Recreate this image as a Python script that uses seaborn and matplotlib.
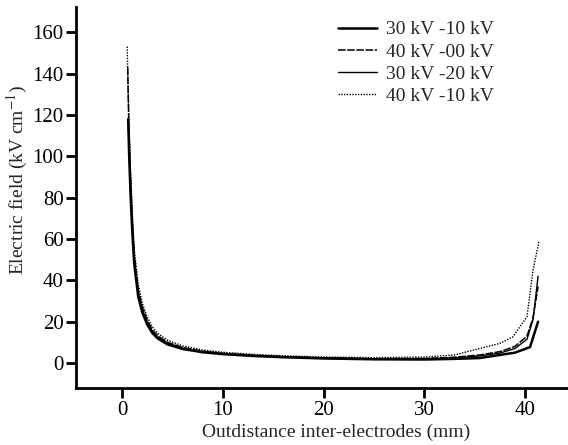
import matplotlib
matplotlib.use("Agg")
import matplotlib.pyplot as plt
import seaborn as sns
import pandas as pd

# ---- data ----
x_30_10 = [0.6, 0.7, 0.85, 1.0, 1.2, 1.6, 2.0, 2.5, 3.0, 3.5, 4.5, 6, 8, 10, 13, 16, 20, 25, 30, 33, 35.5, 37.5, 39.0, 40.5, 41.3]
y_30_10 = [118, 100, 80, 64, 48, 32, 24.5, 18.5, 14.5, 12, 9, 6.8, 5.2, 4.3, 3.4, 2.8, 2.2, 1.8, 1.7, 2.0, 2.4, 3.9, 5.0, 7.7, 20]

x_40_00 = [0.55, 0.65, 0.8, 1.0, 1.2, 1.6, 2.0, 2.5, 3.0, 3.5, 4.5, 6, 8, 10, 13, 16, 20, 25, 30, 33, 35.5, 37.5, 39.0, 40.2, 40.8, 41.3]
y_40_00 = [143, 118, 94, 70, 52, 35, 27, 20.5, 16, 13.3, 10, 7.5, 5.7, 4.7, 3.8, 3.1, 2.5, 2.1, 2.2, 2.8, 3.9, 5.5, 8.0, 13, 22, 37]

x_30_20 = [0.6, 0.7, 0.85, 1.0, 1.2, 1.6, 2.0, 2.5, 3.0, 3.5, 4.5, 6, 8, 10, 13, 16, 20, 25, 30, 33, 35.5, 37.5, 39.0, 40.2, 40.8, 41.3]
y_30_20 = [118, 102, 82, 66, 50, 34, 26, 19.5, 15.3, 12.7, 9.6, 7.2, 5.5, 4.5, 3.6, 3.0, 2.4, 2.0, 2.0, 2.5, 3.4, 4.8, 7.0, 11.5, 21, 42]

x_40_10 = [0.5, 0.65, 0.8, 1.0, 1.2, 1.6, 2.0, 2.5, 3.0, 3.5, 4.5, 6, 8, 10, 13, 16, 20, 25, 30, 33, 35.5, 37.5, 38.8, 40.2, 40.8, 41.4]
y_40_10 = [153, 122, 97, 74, 55, 38, 29, 22, 17.5, 14.5, 11, 8.3, 6.3, 5.2, 4.2, 3.5, 2.9, 2.6, 2.9, 3.9, 7.0, 9.5, 12.7, 22.4, 45, 59]

labels = ["30 kV -10 kV", "40 kV -00 kV", "30 kV -20 kV", "40 kV -10 kV"]
xticks = [0, 10, 20, 30, 40]
yticks = [0, 20, 40, 60, 80, 100, 120, 140, 160]

sns.set_theme(style="ticks")
plt.rcParams["font.family"] = ["Liberation Serif", "DejaVu Serif"]
plt.rcParams["mathtext.fontset"] = "stix"

fig = plt.figure(figsize=(5.68, 4.45), dpi=100)
ax = fig.add_axes([0.134, 0.128, 0.866, 0.856])

series = [
    (x_30_10, y_30_10, labels[0], dict(lw=1.8, linestyle="-")),
    (x_40_00, y_40_00, labels[1], dict(lw=1.1, linestyle=(0, (5, 1)))),
    (x_30_20, y_30_20, labels[2], dict(lw=1.0, linestyle="-")),
    (x_40_10, y_40_10, labels[3], dict(lw=1.0, linestyle=(0, (1, 1)))),
]
for xs, ys, lab, st in series:
    df = pd.DataFrame({"x": xs, "y": ys})
    sns.lineplot(data=df, x="x", y="y", ax=ax, color="black", label=lab,
                 sort=False, estimator=None, **st)

ax.set_xlim(-4.57, 44.27)
ax.set_ylim(-12.1, 172.1)
ax.set_xticks(xticks)
ax.set_yticks(yticks)
ax.tick_params(axis="both", direction="out", length=7, width=2, labelsize=15, colors="black", pad=2)
for s in ["top", "right"]:
    ax.spines[s].set_visible(False)
for s in ["left", "bottom"]:
    ax.spines[s].set_linewidth(2)
    ax.spines[s].set_color("black")

ax.set_xlabel("Outdistance inter-electrodes (mm)", fontsize=14)
ax.set_ylabel(r"Electric field (kV cm$^{-1}$)", fontsize=14)
ax.xaxis.set_label_coords(0.528, -0.093)
ax.yaxis.set_label_coords(-0.094, 0.546)

leg = ax.legend(loc="upper left", bbox_to_anchor=(0.5325, 0.964), frameon=False, fontsize=14,
                handlelength=2.0, handletextpad=0.45, labelspacing=0.23,
                borderpad=0.0, borderaxespad=0.0)

fig.savefig("out.png", dpi=100)
